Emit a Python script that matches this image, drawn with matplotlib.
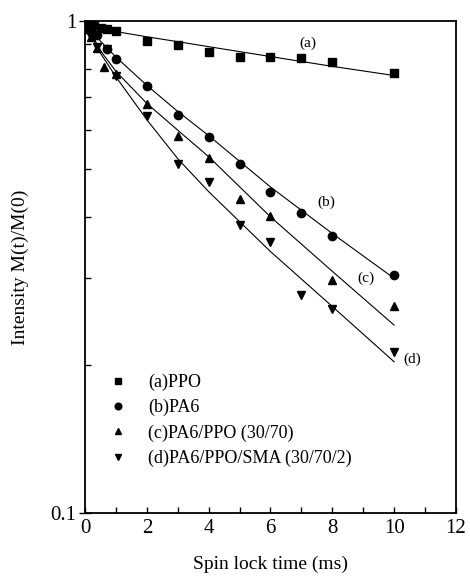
import numpy as np
import matplotlib
matplotlib.use('Agg')
import matplotlib.pyplot as plt
from matplotlib.ticker import FixedLocator, NullFormatter, LogLocator

plt.rcParams['font.family'] = ['Liberation Serif', 'DejaVu Serif']

t_a = [0.1, 0.2, 0.3, 0.5, 0.7, 1, 2, 3, 4, 5, 6, 7, 8, 10]
y_a = [0.99, 0.985, 0.98, 0.97, 0.963, 0.954, 0.909, 0.894, 0.866, 0.846,
       0.844, 0.840, 0.824, 0.783]

t_b = [0.1, 0.2, 0.4, 0.7, 1, 2, 3, 4, 5, 6, 7, 8, 10]
y_b = [0.98, 0.96, 0.935, 0.876, 0.836, 0.738, 0.644, 0.580, 0.512, 0.450,
       0.407, 0.366, 0.304]

t_c = [0.1, 0.2, 0.4, 0.6, 1, 2, 3, 4, 5, 6, 8, 10]
y_c = [0.965, 0.93, 0.88, 0.808, 0.78, 0.678, 0.584, 0.528, 0.434, 0.402,
       0.298, 0.264]

t_d = [0.1, 0.2, 0.4, 0.7, 1, 2, 3, 4, 5, 6, 7, 8, 10]
y_d = [0.96, 0.93, 0.884, 0.877, 0.774, 0.641, 0.512, 0.471, 0.385, 0.356,
       0.277, 0.260, 0.212]

# fitted curves
t_fit = [0.1, 0.5, 1, 2, 3, 4, 6, 8, 10]
fit_a = [0.985, 0.965, 0.952, 0.929, 0.908, 0.887, 0.847, 0.809, 0.775]
fit_b = [0.98, 0.91, 0.845, 0.74, 0.655, 0.585, 0.46, 0.37, 0.30]
fit_c = [0.97, 0.87, 0.79, 0.68, 0.60, 0.53, 0.40, 0.31, 0.241]
fit_d = [0.96, 0.86, 0.77, 0.63, 0.525, 0.45, 0.34, 0.263, 0.203]

labels = ['(a)PPO', '(b)PA6', '(c)PA6/PPO (30/70)', '(d)PA6/PPO/SMA (30/70/2)']
markers = ['s', 'o', '^', 'v']
tags = ['(a)', '(b)', '(c)', '(d)']
tag_pos = [(7.2, 0.902), (7.8, 0.429), (9.1, 0.300), (10.6, 0.205)]

fig = plt.figure(figsize=(4.7, 5.85), dpi=100)
ax = fig.add_axes([0.181, 0.123, 0.789, 0.841])

data = [(t_a, y_a, fit_a), (t_b, y_b, fit_b), (t_c, y_c, fit_c), (t_d, y_d, fit_d)]
for (tt, yy, ff), mk, lab in zip(data, markers, labels):
    ax.plot(t_fit, ff, color='black', lw=0.8)
    ax.plot(tt, yy, linestyle='none', marker=mk, color='black', ms=6,
            label=lab)

# curve tags
for tag, (x, y) in zip(tags, tag_pos):
    ax.text(x, y, tag, fontsize=11, ha='center', va='center')

ax.set_yscale('log')
ax.set_xlim(0, 12)
ax.set_ylim(0.1, 1)
ax.xaxis.set_major_locator(FixedLocator([0, 2, 4, 6, 8, 10, 12]))
ax.xaxis.set_minor_locator(FixedLocator([1, 3, 5, 7, 9, 11]))
ax.yaxis.set_major_locator(FixedLocator([0.1, 1]))
ax.yaxis.set_minor_locator(LogLocator(base=10, subs=np.arange(2, 10)))
ax.yaxis.set_minor_formatter(NullFormatter())
ax.set_yticklabels(['0.1', '1'])
ax.tick_params(axis='x', which='both', direction='in', labelsize=15,
               length=4, width=1, pad=4)
ax.tick_params(axis='y', which='major', direction='inout', labelsize=15,
               length=8, width=1, pad=2)
ax.tick_params(axis='y', which='minor', direction='in', length=4, width=1)
for sp in ax.spines.values():
    sp.set_linewidth(1.3)

ax.set_xlabel('Spin lock time (ms)', fontsize=14, labelpad=13)
ax.set_ylabel('Intensity M(t)/M(0)', fontsize=14, labelpad=16)

ax.legend(loc='lower left', bbox_to_anchor=(0.02, 0.06), frameon=False,
          fontsize=13, handlelength=1.0, handletextpad=1.2, labelspacing=0.45,
          markerscale=0.8)

fig.savefig('out.png', dpi=100)
